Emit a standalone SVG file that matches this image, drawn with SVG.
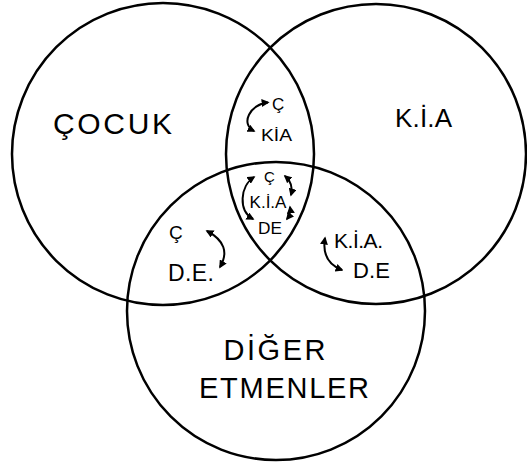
<svg xmlns="http://www.w3.org/2000/svg" width="527" height="465" viewBox="0 0 527 465">
<style>
.c{fill:none;stroke:#000;stroke-width:2.5}
.t{font-family:"Liberation Sans",Arial,sans-serif;fill:#000}
.a{fill:none;stroke:#000;stroke-width:2;marker-start:url(#ah);marker-end:url(#ah)}
</style>
<defs>
<marker id="ah" viewBox="0 0 10 10" refX="8" refY="5" markerWidth="4" markerHeight="4" orient="auto-start-reverse" markerUnits="strokeWidth">
<path d="M0,0 L10,5 L0,10 z" fill="#000"/>
</marker>
</defs>
<rect width="527" height="465" fill="#fff"/>
<g id="cocuk">
<circle class="c" cx="163" cy="154" r="151"/>
<text class="t" x="53" y="134" font-size="30" textLength="119" lengthAdjust="spacing">ÇOCUK</text>
</g>
<g id="kia">
<circle class="c" cx="376" cy="154" r="150"/>
<text class="t" x="395" y="127" font-size="26" textLength="57" lengthAdjust="spacing">K.İ.A</text>
</g>
<g id="diger">
<circle class="c" cx="276" cy="311" r="149"/>
<text class="t" x="223.5" y="360" font-size="29" textLength="102" lengthAdjust="spacing">DİĞER</text>
<text class="t" x="199" y="398" font-size="29" textLength="170" lengthAdjust="spacing">ETMENLER</text>
</g>
<g id="c-kia">
<text class="t" x="272" y="110" font-size="17">Ç</text>
<text class="t" x="261" y="141" font-size="17" textLength="31" lengthAdjust="spacingAndGlyphs">KİA</text>
</g>
<g id="c-kia-de">
<text class="t" x="264" y="182" font-size="15">Ç</text>
<text class="t" x="249.5" y="208" font-size="16" textLength="37" lengthAdjust="spacingAndGlyphs">K.İ.A</text>
<text class="t" x="258" y="234" font-size="17" textLength="24" lengthAdjust="spacingAndGlyphs">DE</text>
</g>
<g id="c-de">
<text class="t" x="169" y="239" font-size="19">Ç</text>
<text class="t" x="168" y="281" font-size="23" textLength="46" lengthAdjust="spacing">D.E.</text>
</g>
<g id="kia-de">
<text class="t" x="334" y="248" font-size="21" textLength="49" lengthAdjust="spacing">K.İ.A.</text>
<text class="t" x="353" y="278" font-size="22" textLength="37" lengthAdjust="spacing">D.E</text>
</g>
<g id="connectors">
<path class="a" d="M268,102.5 C250,104 240,124 254,131"/>
<path class="a" d="M254,177 C240,186 238,211 253,219"/>
<path class="a" d="M285,176 Q294,184 291,195"/>
<path class="a" d="M290,207 Q291,214 287,219"/>
<path class="a" d="M207,231 Q233,245 220,267"/>
<path class="a" d="M325,238 Q321,262 342,270"/>
</g>
</svg>
